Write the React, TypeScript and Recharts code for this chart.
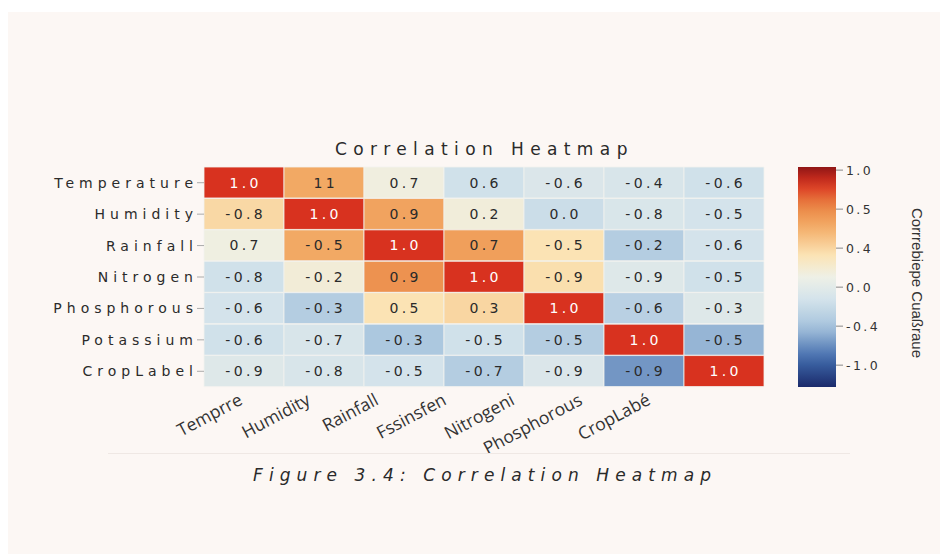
import { BarChart, Bar, XAxis, YAxis, Cell, LabelList } from 'recharts';

const rowNames = ['Temperature', 'Humidity', 'Rainfall', 'Nitrogen', 'Phosphorous', 'Potassium', 'CropLabel'];
const colNames = ['Temprre', 'Humidity', 'Rainfall', 'Fssinsfen', 'Nitrogeni', 'Phosphorous', 'CropLabé'];

// printed numbers in each cell
const cellLabels = [
  ['1.0', '11', '0.7', '0.6', '-0.6', '-0.4', '-0.6'],
  ['-0.8', '1.0', '0.9', '0.2', '0.0', '-0.8', '-0.5'],
  ['0.7', '-0.5', '1.0', '0.7', '-0.5', '-0.2', '-0.6'],
  ['-0.8', '-0.2', '0.9', '1.0', '-0.9', '-0.9', '-0.5'],
  ['-0.6', '-0.3', '0.5', '0.3', '1.0', '-0.6', '-0.3'],
  ['-0.6', '-0.7', '-0.3', '-0.5', '-0.5', '1.0', '-0.5'],
  ['-0.9', '-0.8', '-0.5', '-0.7', '-0.9', '-0.9', '1.0']
];

// shade of each cell as it appears on the colour bar
const cellShades = [
  [0.85, 0.47, 0.03, -0.22, -0.15, -0.17, -0.22],
  [0.25, 0.85, 0.5, 0.05, -0.25, -0.16, -0.2],
  [0.02, 0.47, 0.85, 0.52, 0.2, -0.38, -0.2],
  [-0.22, 0.06, 0.58, 0.85, 0.22, -0.12, -0.22],
  [-0.2, -0.38, 0.2, 0.26, 0.85, -0.35, -0.12],
  [-0.22, -0.17, -0.42, -0.22, -0.38, 0.85, -0.5],
  [-0.12, -0.17, -0.2, -0.38, -0.15, -0.6, 0.85]
];

// where the rotated column names sit along the x axis (column units)
const colTickPos = [0.43, 1.28, 2.13, 2.98, 3.83, 4.68, 5.53];

const barTicks = ['-1.0', '-0.4', '0.0', '0.4', '0.5', '1.0'];
const barExtent: [number, number] = [-0.56, 5.08];

const colorStops: [number, string][] = [
  [-1.0, '#1b2a6b'],
  [-0.75, '#3e68aa'],
  [-0.45, '#a7c4dd'],
  [-0.2, '#d4e3eb'],
  [0.0, '#eef0e6'],
  [0.2, '#fbe3b4'],
  [0.45, '#f3ad68'],
  [0.65, '#ea8443'],
  [0.85, '#d8321f'],
  [1.0, '#901616']
];

function hexToRgb(h: string) {
  return [1, 3, 5].map(i => parseInt(h.slice(i, i + 2), 16));
}

function shadeColor(v: number) {
  if (v <= colorStops[0][0]) return colorStops[0][1];
  for (let i = 1; i < colorStops.length; i++) {
    const [v1, c1] = colorStops[i];
    const [v0, c0] = colorStops[i - 1];
    if (v <= v1) {
      const t = (v - v0) / (v1 - v0);
      const a = hexToRgb(c0);
      const b = hexToRgb(c1);
      const m = a.map((x, k) => Math.round(x + (b[k] - x) * t));
      return `rgb(${m[0]},${m[1]},${m[2]})`;
    }
  }
  return colorStops[colorStops.length - 1][1];
}

const tableData = rowNames.map((name, r) => {
  const row: Record<string, string | number> = { row: name };
  colNames.forEach((_, c) => {
    row[`c${c}`] = 1;
    row[`l${c}`] = cellLabels[r][c];
  });
  return row;
});

const barData = [{ name: 'bar', span: barExtent }];

const labelFont = 'DejaVu Sans, Verdana, sans-serif';

function RowTick(props: any) {
  const { x, y, payload } = props;
  return (
    <text x={x + 4} y={y} dy={5} textAnchor="end" fill="#2b2b2b" fontSize={14} fontFamily={labelFont} letterSpacing={5}>
      {payload.value}
    </text>
  );
}

function ColTick(props: any) {
  const { x, y, index } = props;
  return (
    <g transform={`translate(${x},${y})`}>
      <text x={0} y={0} dy={11} textAnchor="end" fill="#333" fontSize={17.5} fontFamily="Open Sans, sans-serif" transform="rotate(-28)">
        {colNames[index]}
      </text>
    </g>
  );
}

function makeCellLabel(c: number) {
  return (props: any) => {
    const { x, y, width, height, value, index } = props;
    const white = cellShades[index][c] >= 0.8;
    return (
      <text
        x={x + width / 2 + 1.7}
        y={y + height / 2}
        dy={5}
        textAnchor="middle"
        fill={white ? '#ffffff' : '#2a2a2a'}
        fontSize={14}
        fontFamily={labelFont}
        letterSpacing={3.4}
      >
        {value}
      </text>
    );
  };
}

function BarTick(props: any) {
  const { x, y, payload } = props;
  return (
    <text x={x} y={y} dy={5} fill="#333" fontSize={12.5} fontFamily={labelFont} letterSpacing={2.4}>
      {barTicks[payload.value]}
    </text>
  );
}

export default function App() {
  const gradStops = Array.from({ length: 21 }, (_, i) => i / 20);
  return (
    <div style={{ position: 'fixed', left: 0, top: 0, width: 940, height: 554, background: '#ffffff', overflow: 'hidden' }}>
      <div style={{ position: 'absolute', left: 8, top: 12, right: 0, bottom: 0, background: '#fcf7f4' }} />
      <div
        style={{
          position: 'absolute', left: 335, top: 139, whiteSpace: 'nowrap',
          fontFamily: labelFont, fontSize: 17, letterSpacing: 6.4, color: '#2a2a2a'
        }}
      >
        Correlation Heatmap
      </div>

      <div style={{ position: 'absolute', left: 0, top: 0 }}>
        <BarChart
          width={940}
          height={554}
          data={tableData}
          layout="vertical"
          barCategoryGap={0}
          margin={{ top: 167, bottom: 107, left: 4, right: 176 }}
        >
          <XAxis
            type="number"
            domain={[0, 7]}
            ticks={colTickPos}
            height={60}
            axisLine={false}
            tickLine={false}
            tick={<ColTick />}
            tickMargin={1}
            interval={0}
          />
          <YAxis
            type="category"
            dataKey="row"
            width={200}
            axisLine={false}
            tickLine={{ stroke: '#aaa' }}
            tickSize={7}
            tickMargin={3}
            tick={<RowTick />}
            interval={0}
          />
          {colNames.map((_, c) => (
            <Bar key={c} dataKey={`c${c}`} stackId="a" isAnimationActive={false} stroke="#f2f2ef" strokeWidth={0.8}>
              {tableData.map((_, r) => (
                <Cell key={r} fill={shadeColor(cellShades[r][c])} />
              ))}
              <LabelList dataKey={`l${c}`} content={makeCellLabel(c)} />
            </Bar>
          ))}
        </BarChart>
      </div>

      <div style={{ position: 'absolute', left: 790, top: 0 }}>
        <BarChart width={150} height={554} data={barData} barCategoryGap={0} margin={{ top: 167, bottom: 167, left: 8, right: 0 }}>
          <defs>
            <linearGradient id="cbar" x1="0" y1="0" x2="0" y2="1">
              {gradStops.map(t => (
                <stop key={t} offset={t} stopColor={shadeColor(1 - 2 * t)} />
              ))}
            </linearGradient>
          </defs>
          <XAxis dataKey="name" hide />
          <YAxis
            type="number"
            orientation="right"
            domain={barExtent}
            ticks={[0, 1, 2, 3, 4, 5]}
            width={104}
            axisLine={false}
            tickLine={{ stroke: '#888' }}
            tickSize={7}
            tickMargin={3}
            tick={<BarTick />}
            interval={0}
            label={{
              content: (p: any) => {
                const vb = p.viewBox;
                const cx = vb.x + 76;
                const cy = vb.y + vb.height / 2 + 6;
                return (
                  <text
                    x={cx}
                    y={cy}
                    textAnchor="middle"
                    fill="#333"
                    fontSize={15}
                    fontFamily="Liberation Sans Narrow, Liberation Sans, sans-serif"
                    transform={`rotate(90, ${cx}, ${cy})`}
                  >
                    Corrrebiepe Cuaßraue
                  </text>
                );
              }
            }}
          />
          <Bar dataKey="span" fill="url(#cbar)" isAnimationActive={false} />
        </BarChart>
      </div>

      <div style={{ position: 'absolute', left: 108, width: 742, top: 453, height: 1, background: '#efe8e4' }} />
      <div
        style={{
          position: 'absolute', left: 253, top: 465, whiteSpace: 'nowrap',
          fontFamily: labelFont, fontStyle: 'italic', fontSize: 17, letterSpacing: 6.1, color: '#2a2a2a'
        }}
      >
        Figure 3.4: Correlation Heatmap
      </div>
    </div>
  );
}
